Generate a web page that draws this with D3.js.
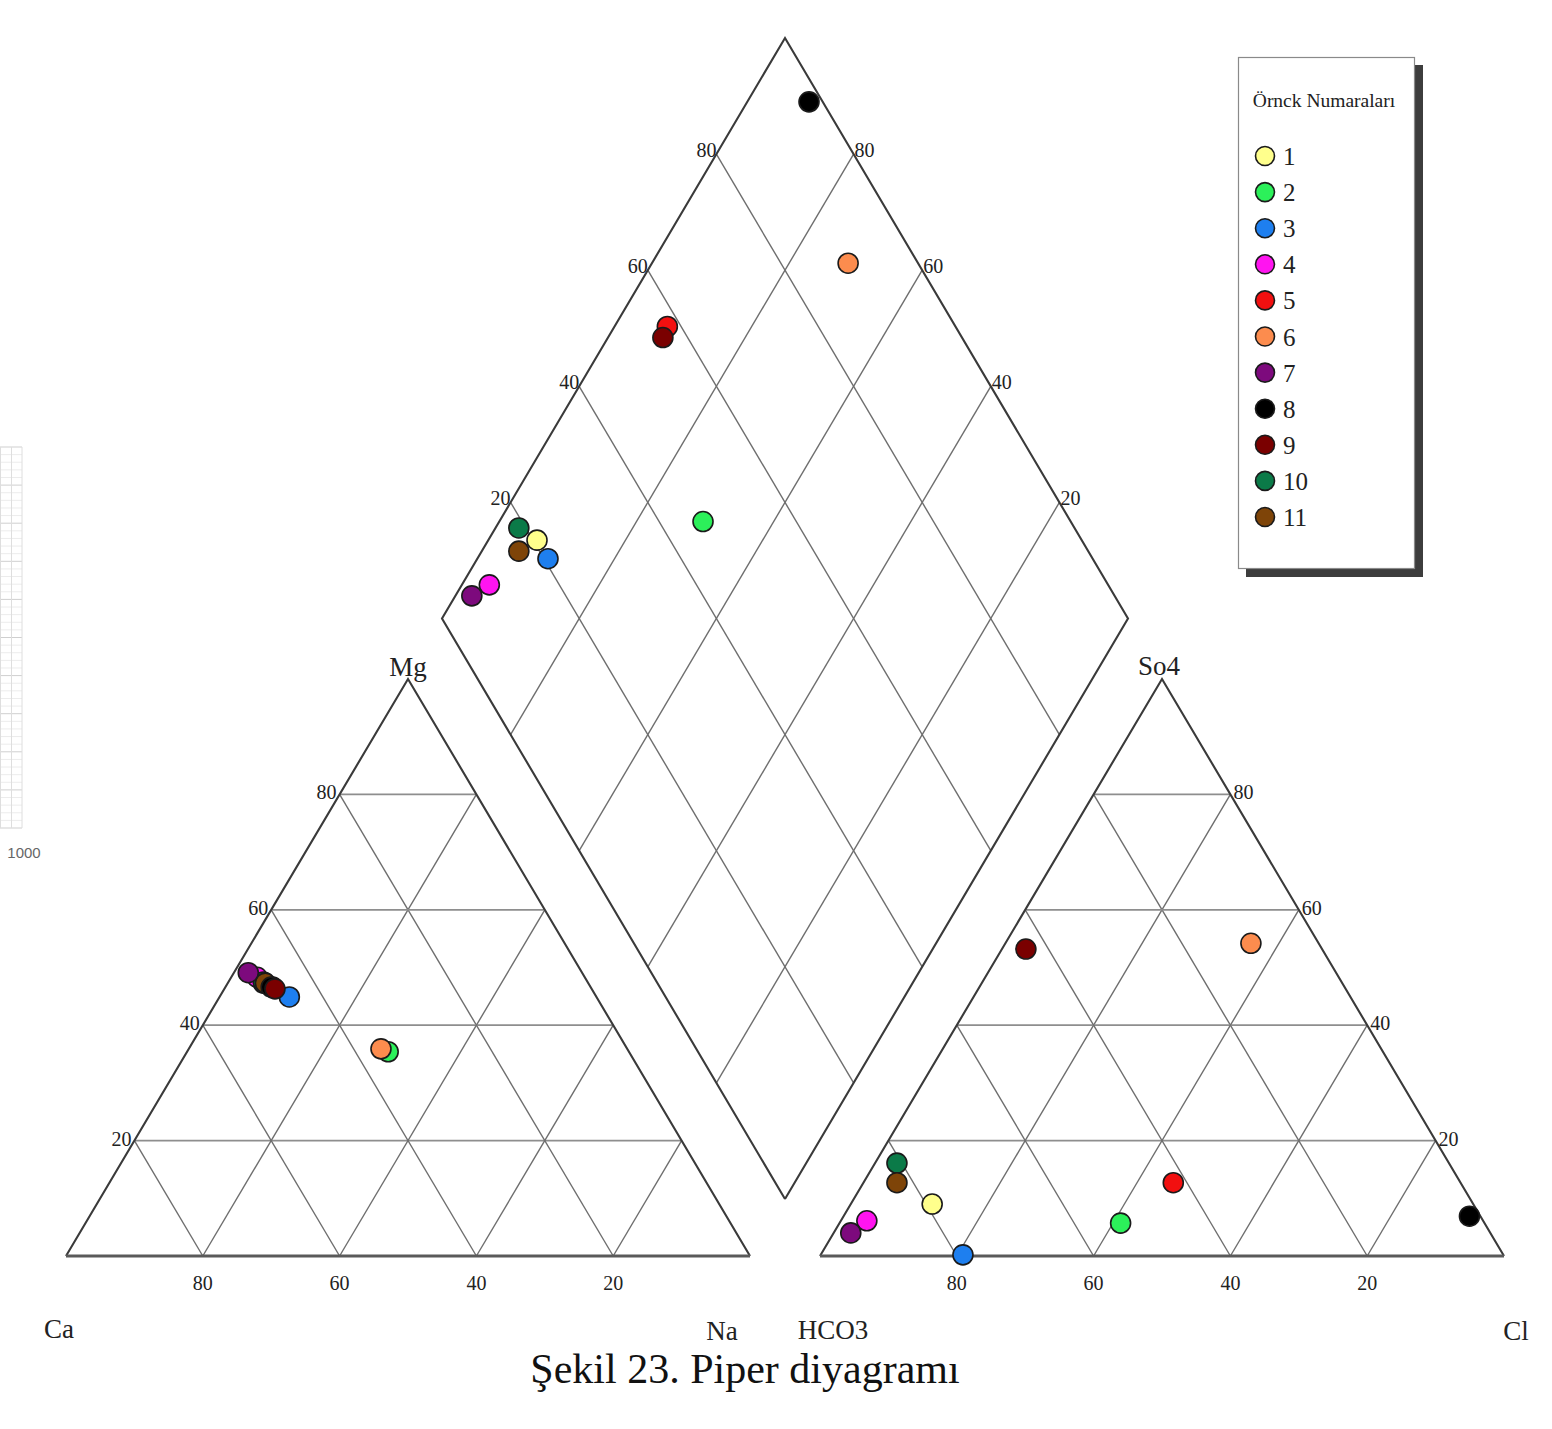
<!DOCTYPE html>
<html lang="tr">
<head>
<meta charset="utf-8">
<title>Piper diyagramı</title>
<script src="https://cdn.jsdelivr.net/npm/d3@7"></script>
<style>
  html, body { margin: 0; padding: 0; background: #ffffff; }
  svg { display: block; }
  text { font-family: "Liberation Serif", "Times New Roman", serif; fill: #222; }
</style>
</head>
<body>
<div id="chart"></div>
<script>
// ---- Sample data (percent of meq/L) ----
const samples = ["1", "2", "3", "4", "5", "6", "7", "8", "9", "10", "11"];
const sampleColors = ["#ffff8c", "#2cf05a", "#1e7fef", "#ff14f0", "#f21010", "#fc8c4e",
                      "#7d0a7d", "#000000", "#7a0000", "#0b7a48", "#7e4408"];

// Cation triangle
const caPct = [47.5, 35.2, 44.9, 47.9, 46.5, 36.0, 48.8, 46.7, 46.3, 47.4, 47.2];
const mgPct = [47.3, 35.4, 44.9, 48.3, 46.6, 35.9, 49.1, 46.6, 46.3, 47.5, 47.3];
const naPct = [5.2, 29.4, 10.2, 3.8, 6.9, 28.1, 2.1, 6.7, 7.4, 5.1, 5.5];

// Anion triangle
const hco3Pct = [79.1, 53.2, 79.0, 90.1, 42.0, 9.9, 93.5, 1.6, 43.3, 80.7, 82.4];
const so4Pct  = [9.0, 5.7, 0.2, 6.1, 12.7, 54.2, 4.0, 6.9, 53.2, 16.1, 12.7];
const clPct   = [11.9, 41.1, 20.8, 3.8, 45.3, 35.9, 2.5, 91.5, 3.5, 3.2, 4.9];

// Diamond field: Na share and SO4+Cl share
const diamondNa    = [20.6, 46.4, 20.6, 9.8, 58.0, 89.8, 6.3, 98.0, 56.4, 19.0, 17.0];
const diamondSO4Cl = [92.9, 70.3, 89.7, 96.0, 92.3, 71.4, 97.6, 91.0, 92.0, 96.6, 94.6];

// Layering of the crowded cation cluster (sample indices, bottom to top)
const cationLayerOrder = [0, 1, 2, 3, 9, 10, 4, 5, 6, 7, 8];

// Tick values
const gridValues = [20, 40, 60, 80];
const baseTickLabels = [80, 60, 40, 20];

const legendTitle = "Örnck Numaraları";
const caption = "Şekil 23. Piper diyagramı";

// ---- Layout ----
const W = 1552, H = 1429;
const svg = d3.select("#chart").append("svg").attr("width", W).attr("height", H);

const catX = d3.scaleLinear().domain([0, 100]).range([66, 750]);
const anX  = d3.scaleLinear().domain([0, 100]).range([820, 1504]);
const triY = d3.scaleLinear().domain([0, 100]).range([1256, 679]);
const dX   = d3.scaleLinear().domain([-100, 100]).range([442, 1128]);
const dY   = d3.scaleLinear().domain([0, 200]).range([1199, 38]);

// ternary / diamond projections
const cat = (mg, na) => [catX(na + mg / 2), triY(mg)];
const an  = (so4, cl) => [anX(cl + so4 / 2), triY(so4)];
const dia = (sc, na) => [dX(na - sc), dY(sc + na)];

const line = d3.line();

// ---- Faint spreadsheet strip on the far left ----
const strip = svg.append("g");
const stripY = d3.scaleLinear().domain([0, 50]).range([447, 828]);
d3.range(0, 51).forEach(i => {
  strip.append("line")
    .attr("x1", 0).attr("x2", 22)
    .attr("y1", stripY(i)).attr("y2", stripY(i))
    .attr("stroke", i % 5 === 0 ? "#cfcfcf" : "#ececec")
    .attr("stroke-width", 1);
});
[0.5, 11.5, 22].forEach(x => {
  strip.append("line").attr("x1", x).attr("x2", x)
    .attr("y1", stripY(0)).attr("y2", stripY(50))
    .attr("stroke", "#dedede").attr("stroke-width", 1);
});
svg.append("text").attr("x", 24).attr("y", 858).attr("text-anchor", "middle")
  .style("font-family", "'Liberation Sans', Arial, sans-serif")
  .style("font-size", "15px").style("fill", "#666").text("1000");

// ---- Grid drawing helpers ----
const gridG = svg.append("g");
function seg(p, q, color, width) {
  gridG.append("path").attr("d", line([p, q]))
    .attr("fill", "none").attr("stroke", color).attr("stroke-width", width);
}
const diagColor = "#6e6e6e", diagW = 1.4;
const horColor = "#8e8e8e", horW = 1.8;

// Cation triangle grid
gridValues.forEach(k => {
  seg(cat(k, 0), cat(k, 100 - k), horColor, horW);           // Mg = k
  seg(cat(0, k), cat(100 - k, k), diagColor, diagW);          // Na = k
  seg(cat(0, 100 - k), cat(100 - k, 0), diagColor, diagW);    // Ca = k
});
// Anion triangle grid
gridValues.forEach(k => {
  seg(an(k, 0), an(k, 100 - k), horColor, horW);
  seg(an(0, k), an(100 - k, k), diagColor, diagW);
  seg(an(0, 100 - k), an(100 - k, 0), diagColor, diagW);
});
// Diamond grid
gridValues.forEach(k => {
  seg(dia(0, k), dia(100, k), diagColor, diagW);
  seg(dia(k, 0), dia(k, 100), diagColor, diagW);
});

// ---- Outlines ----
const outG = svg.append("g").attr("fill", "none").attr("stroke-linejoin", "miter");
function outline(points, color, width) {
  outG.append("path").attr("d", line(points)).attr("stroke", color).attr("stroke-width", width);
}
outline([cat(0, 0), cat(100, 0), cat(0, 100)], "#3a3a3a", 2.1);
outline([cat(0, 0), cat(0, 100)], "#5a5a5a", 2.8);
outline([an(0, 0), an(100, 0), an(0, 100)], "#3a3a3a", 2.1);
outline([an(0, 0), an(0, 100)], "#5a5a5a", 2.8);
outline([dia(0, 0), dia(100, 0), dia(100, 100), dia(0, 100), dia(0, 0)], "#3a3a3a", 2.1);

// ---- Tick labels ----
const labG = svg.append("g").style("font-size", "20px");
gridValues.forEach(k => {
  const p = cat(k, 0);
  labG.append("text").attr("x", p[0] - 3).attr("y", p[1] + 5).attr("text-anchor", "end").text(k);
  const q = an(k, 100 - k);
  labG.append("text").attr("x", q[0] + 3).attr("y", q[1] + 5).attr("text-anchor", "start").text(k);
  const r = dia(100, k);
  labG.append("text").attr("x", r[0]).attr("y", r[1] + 3).attr("text-anchor", "end").text(k);
  const s = dia(k, 100);
  labG.append("text").attr("x", s[0] + 1).attr("y", s[1] + 3).attr("text-anchor", "start").text(k);
});
baseTickLabels.forEach(k => {
  labG.append("text").attr("x", catX(100 - k)).attr("y", triY(0) + 34)
    .attr("text-anchor", "middle").text(k);
  labG.append("text").attr("x", anX(100 - k)).attr("y", triY(0) + 34)
    .attr("text-anchor", "middle").text(k);
});

// ---- Corner labels ----
const cornerG = svg.append("g").style("font-size", "27px");
cornerG.append("text").attr("x", 59).attr("y", 1338).attr("text-anchor", "middle").text("Ca");
cornerG.append("text").attr("x", 722).attr("y", 1340).attr("text-anchor", "middle").text("Na");
cornerG.append("text").attr("x", 833).attr("y", 1339).attr("text-anchor", "middle").text("HCO3");
cornerG.append("text").attr("x", 1516).attr("y", 1340).attr("text-anchor", "middle").text("Cl");
cornerG.append("text").attr("x", cat(100, 0)[0]).attr("y", triY(100) - 3).attr("text-anchor", "middle").text("Mg");
cornerG.append("text").attr("x", an(100, 0)[0] - 3).attr("y", triY(100) - 4).attr("text-anchor", "middle").text("So4");

// ---- Sample points ----
const ptG = svg.append("g");
const rPt = 10;
function dot(p, i) {
  ptG.append("circle").attr("cx", p[0]).attr("cy", p[1]).attr("r", rPt)
    .attr("fill", sampleColors[i]).attr("stroke", "#1a1a1a").attr("stroke-width", 1.6);
}
cationLayerOrder.forEach(i => dot(cat(mgPct[i], naPct[i]), i));
samples.forEach((s, i) => dot(an(so4Pct[i], clPct[i]), i));
samples.forEach((s, i) => dot(dia(diamondSO4Cl[i], diamondNa[i]), i));

// ---- Legend ----
const lg = svg.append("g");
lg.append("rect").attr("x", 1246).attr("y", 65).attr("width", 177).attr("height", 512).attr("fill", "#3d3d3d");
lg.append("rect").attr("x", 1238.5).attr("y", 57.5).attr("width", 176).attr("height", 511)
  .attr("fill", "#ffffff").attr("stroke", "#8a8a8a").attr("stroke-width", 1.2);
lg.append("text").attr("x", 1324).attr("y", 107).attr("text-anchor", "middle")
  .style("font-size", "19.5px").text(legendTitle);
const legY = d3.scaleLinear().domain([0, samples.length - 1]).range([156, 517]);
samples.forEach((s, i) => {
  const y = legY(i);
  lg.append("circle").attr("cx", 1265).attr("cy", y).attr("r", 9.5)
    .attr("fill", sampleColors[i]).attr("stroke", "#1a1a1a").attr("stroke-width", 1.6);
  lg.append("text").attr("x", 1283).attr("y", y + 9).style("font-size", "25px").text(s);
});

// ---- Caption ----
svg.append("text").attr("x", 745).attr("y", 1383).attr("text-anchor", "middle")
  .style("font-size", "42px").style("fill", "#111").text(caption);
</script>
</body>
</html>
